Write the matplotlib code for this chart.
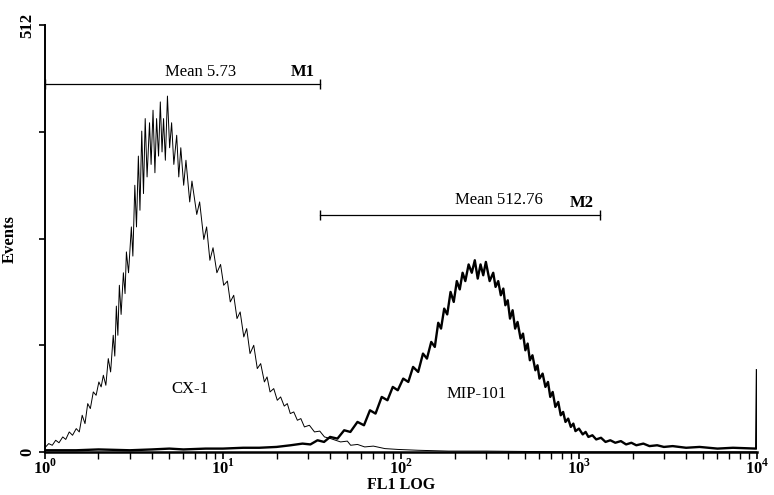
import matplotlib.pyplot as plt

plt.rcParams['font.family'] = ['Liberation Serif', 'DejaVu Serif']
plt.rcParams['mathtext.fontset'] = 'custom'
plt.rcParams['mathtext.rm'] = 'Liberation Serif:bold'
plt.rcParams['mathtext.bf'] = 'Liberation Serif:bold'

# CX-1 histogram (FL1 value, events)
cx1_fl1 = [1.00, 1.05, 1.10, 1.15, 1.20, 1.26, 1.31, 1.37, 1.43, 1.50, 1.56, 1.62, 1.68,
           1.74, 1.80, 1.87, 1.94, 2.01, 2.07, 2.13, 2.20, 2.27, 2.34, 2.42, 2.47, 2.52,
           2.57, 2.62, 2.68, 2.76, 2.82, 2.87, 2.95, 3.06, 3.12, 3.20, 3.27, 3.35, 3.42,
           3.50, 3.58, 3.66, 3.75, 3.87, 3.95, 4.05, 4.15, 4.24, 4.35, 4.45, 4.55, 4.64,
           4.75, 4.88, 5.02, 5.15, 5.30, 5.50, 5.65, 5.80, 6.02, 6.20, 6.51, 6.70, 7.13,
           7.40, 7.81, 8.10, 8.45, 8.80, 9.25, 9.70, 10.1, 10.6, 11.0, 11.5, 12.0, 12.5,
           13.1, 13.6, 14.2, 14.9, 15.6, 16.3, 17.1, 17.7, 18.4, 19.3, 20.2, 21.1, 22.1,
           23.0, 23.9, 25.0, 26.2, 27.4, 28.7, 30.6, 32.7, 35.0, 37.2, 40.3, 45.8, 50.0,
           52.2, 57.0, 62.6, 70.0, 81.3, 96.2, 125, 185, 300, 1000, 10000]
cx1_events = [5, 10, 8, 14, 11, 18, 15, 24, 20, 28, 24, 44, 34,
              58, 52, 72, 68, 84, 78, 92, 80, 112, 96, 140, 115, 175,
              140, 200, 165, 215, 190, 240, 215, 270, 235, 320, 270, 355, 290,
              385, 310, 400, 330, 395, 345, 410, 335, 400, 355, 420, 360, 400,
              350, 427, 365, 395, 345, 380, 330, 365, 320, 350, 300, 325, 285,
              300, 255, 270, 230, 245, 215, 225, 200, 205, 180, 188, 160, 168,
              138, 148, 118, 128, 100, 106, 84, 90, 72, 76, 62, 66, 55,
              58, 46, 48, 38, 40, 30, 32, 24, 25, 18, 16, 12, 13,
              8, 9, 6, 7, 4, 3, 2, 1, 1, 0, 0]

# MIP-101 histogram
mip_fl1 = [1.0, 1.5, 2.0, 3.0, 4.0, 5.0, 6.0, 8.0, 10, 13, 16, 20, 24, 28, 31, 34, 37,
           40, 44, 48, 52, 57, 62, 67, 72, 78, 84, 90, 96, 103, 110, 117, 125, 133,
           140, 148, 155, 162, 168, 175, 182, 190, 198, 206, 214, 222, 230, 240, 250,
           260, 270, 280, 290, 300, 315, 330, 340, 352, 364, 376, 386, 398, 410, 424,
           438, 452, 470, 485, 500, 515, 530, 548, 569, 585, 600, 625, 648, 670, 690,
           712, 737, 765, 790, 815, 840, 870, 900, 930, 956, 1000, 1050, 1090, 1130,
           1190, 1250, 1330, 1410, 1500, 1600, 1720, 1840, 1970, 2100, 2300, 2490,
           2750, 3000, 3360, 4000, 4760, 6000, 7330, 9900, 10000]
mip_events = [2, 2, 3, 2, 3, 4, 3, 4, 4, 5, 5, 6, 8, 10, 9, 14, 12,
              18, 16, 26, 24, 36, 32, 50, 46, 66, 62, 78, 74, 88, 84, 102, 96, 118,
              112, 132, 126, 155, 148, 172, 165, 192, 180, 205, 195, 215, 205, 225, 215,
              230, 208, 225, 212, 228, 205, 215, 198, 205, 188, 196, 176, 182, 160, 170,
              148, 156, 136, 142, 122, 130, 110, 116, 98, 104, 88, 94, 78, 84, 66,
              72, 54, 60, 44, 48, 36, 40, 30, 34, 25, 28, 21, 24, 18,
              20, 15, 17, 12, 14, 11, 13, 9, 11, 8, 10, 7,
              8, 6, 7, 5, 6, 4, 5, 4, 98]

# region markers
m1_range = [1.0, 35.3]
m1_level = 441
m2_range = [35.3, 1314]
m2_level = 284

fig = plt.figure(figsize=(7.74, 4.95), dpi=100)
ax = fig.add_axes([0.058, 0.087, 0.920, 0.862])

ax.plot(cx1_fl1, cx1_events, color='black', lw=0.7)
ax.plot(mip_fl1, mip_events, color='black', lw=1.7)

ax.plot(m1_range, [m1_level, m1_level], color='black', lw=0.9, marker='|', ms=7)
ax.plot(m2_range, [m2_level, m2_level], color='black', lw=0.9, marker='|', ms=7)

ax.text(7.5, m1_level + 5, 'Mean 5.73', ha='center', va='bottom', fontsize=12)
ax.text(28.0, m1_level + 5, 'M1', ha='center', va='bottom', fontsize=12, weight='bold')
ax.text(353, m2_level + 9, 'Mean 512.76', ha='center', va='bottom', fontsize=12)
ax.text(1040, m2_level + 5, 'M2', ha='center', va='bottom', fontsize=12, weight='bold')
ax.text(6.5, 75, 'CX-1', ha='center', va='center', fontsize=12)
ax.text(265, 69, 'MIP-101', ha='center', va='center', fontsize=12)

ax.set_xscale('log')
ax.set_xlim(1, 10000)
ax.set_ylim(0, 512)
ax.set_xticks([1, 10, 100, 1000, 10000])
ax.set_xticklabels(['$10^{0}$', '$10^{1}$', '$10^{2}$', '$10^{3}$', '$10^{4}$'], fontsize=12)
ax.set_yticks([0, 128, 256, 384, 512])
ax.set_yticklabels(['0', '', '', '', '512'], rotation=90, va='center',
                   fontsize=12, weight='bold')

ax.tick_params(axis='x', which='major', length=5, width=1.2, pad=0)
ax.tick_params(axis='x', which='minor', length=5, width=1.0)
ax.tick_params(axis='y', length=4, width=1.2, pad=3)

for side in ['top', 'right']:
    ax.spines[side].set_visible(False)
ax.spines['left'].set_linewidth(1.4)
ax.spines['bottom'].set_linewidth(1.8)

ax.set_xlabel('FL1 LOG', fontsize=11.5, weight='bold', va='bottom')
ax.xaxis.set_label_coords(0.5, -0.096)
ax.set_ylabel('Events', fontsize=12, weight='bold')
ax.yaxis.set_label_coords(-0.038, 0.5)

fig.savefig('out.png', dpi=100)
